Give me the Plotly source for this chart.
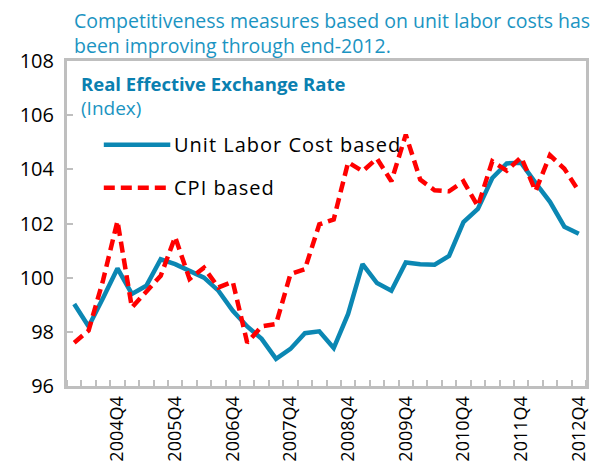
import plotly.graph_objects as go

quarters = [f"{y}Q{q}" for y in range(2004, 2013) for q in range(1, 5)]
ulc = [99.03, 98.2, 99.25, 100.34, 99.4, 99.7, 100.68, 100.5, 100.25, 100.0,
       99.52, 98.78, 98.2, 97.74, 97.0, 97.37, 97.95, 98.02, 97.4, 98.66,
       100.5, 99.8, 99.52, 100.56, 100.5, 100.48, 100.8, 102.05, 102.54, 103.68,
       104.22, 104.24, 103.5, 102.8, 101.88, 101.62]
cpi = [97.6, 98.05, 99.9, 102.09, 98.9, 99.46, 100.07, 101.5, 99.95, 100.37,
       99.64, 99.85, 97.6, 98.2, 98.29, 100.13, 100.31, 101.97, 102.15, 104.26,
       103.93, 104.4, 103.56, 105.28, 103.62, 103.23, 103.19, 103.56, 102.64, 104.3,
       103.95, 104.45, 103.2, 104.52, 104.02, 103.2]
y_ticks = [96, 98, 100, 102, 104, 106, 108]

BLUE = "#0B87B3"
RED = "#FF0000"
TEAL = "#1B94C2"
GRID = "#BFBFBF"
FONT = "Open Sans"

idx = list(range(len(quarters)))
q4_idx = [i for i, q in enumerate(quarters) if q.endswith("Q4")]

fig = go.Figure()
fig.add_trace(go.Scatter(x=idx, y=ulc, mode="lines", name="Unit Labor Cost based",
                         line=dict(color=BLUE, width=4.5)))
fig.add_trace(go.Scatter(x=idx, y=cpi, mode="lines", name="CPI based",
                         line=dict(color=RED, width=4.5, dash="11px,6px")))

# page body adds an 8px offset; margins compensate
fig.update_layout(
    width=611, height=466,
    margin=dict(l=56, r=33, t=53, b=87),
    plot_bgcolor="white", paper_bgcolor="white",
    showlegend=False,
    font=dict(family=FONT, color="black"),
)
fig.update_xaxes(
    range=[-0.5, len(quarters) - 0.5],
    tickmode="array", tickvals=q4_idx, ticktext=[quarters[i] for i in q4_idx],
    tickangle=-90, ticks="", tickfont=dict(size=18, family=FONT, color="black"),
    ticklabelstandoff=0,
    showgrid=False, zeroline=False,
    showline=True, linecolor=GRID, linewidth=3, mirror=True,
    minor=dict(tickmode="linear", tick0=-0.5, dtick=1, ticks="inside",
               ticklen=6, tickwidth=2, tickcolor=GRID, showgrid=False),
)
fig.update_yaxes(
    range=[96, 108], tickvals=y_ticks,
    ticks="inside", ticklen=6, tickwidth=2, tickcolor=GRID,
    tickfont=dict(size=20, family=FONT, color="black"),
    ticklabelstandoff=6,
    showgrid=False, zeroline=False,
    showline=True, linecolor=GRID, linewidth=3, mirror=True,
)

# Title text
fig.add_annotation(xref="paper", yref="paper", x=0.0096, y=1.0, yshift=41,
                   xanchor="left", yanchor="middle", showarrow=False,
                   text="Competitiveness measures based on unit labor costs has",
                   font=dict(size=19.5, color=TEAL, family=FONT))
fig.add_annotation(xref="paper", yref="paper", x=0.0096, y=1.0, yshift=16,
                   xanchor="left", yanchor="middle", showarrow=False,
                   text="been improving through end-2012.",
                   font=dict(size=19.5, color=TEAL, family=FONT))
fig.add_annotation(xref="paper", yref="paper", x=0.024, y=1.0, yshift=-35,
                   xanchor="left", yanchor="middle", align="left", showarrow=False,
                   text=("<span style='font-size:18.5px;color:#0A80B0'><b>Real Effective Exchange Rate</b></span>"
                         "<br><span style='font-size:19px'>(Index)</span>"),
                   font=dict(size=18.5, color=TEAL, family=FONT))

# Manual legend
leg = [("Unit Labor Cost based", dict(color=BLUE, width=4.5)),
       ("CPI based", dict(color=RED, width=4.5, dash="11px,6px"))]
for k, (name, ln) in enumerate(leg):
    yl = 0.742 - k * 0.132
    fig.add_shape(type="line", xref="paper", yref="paper",
                  x0=0.0709, x1=0.199, y0=yl, y1=yl, line=ln)
    fig.add_annotation(xref="paper", yref="paper", x=0.203, y=yl,
                       xanchor="left", yanchor="middle", showarrow=False,
                       text=f"<span style='letter-spacing:1px'>{name}</span>",
                       font=dict(size=20, color="black", family=FONT))

fig.write_html("out.html")
